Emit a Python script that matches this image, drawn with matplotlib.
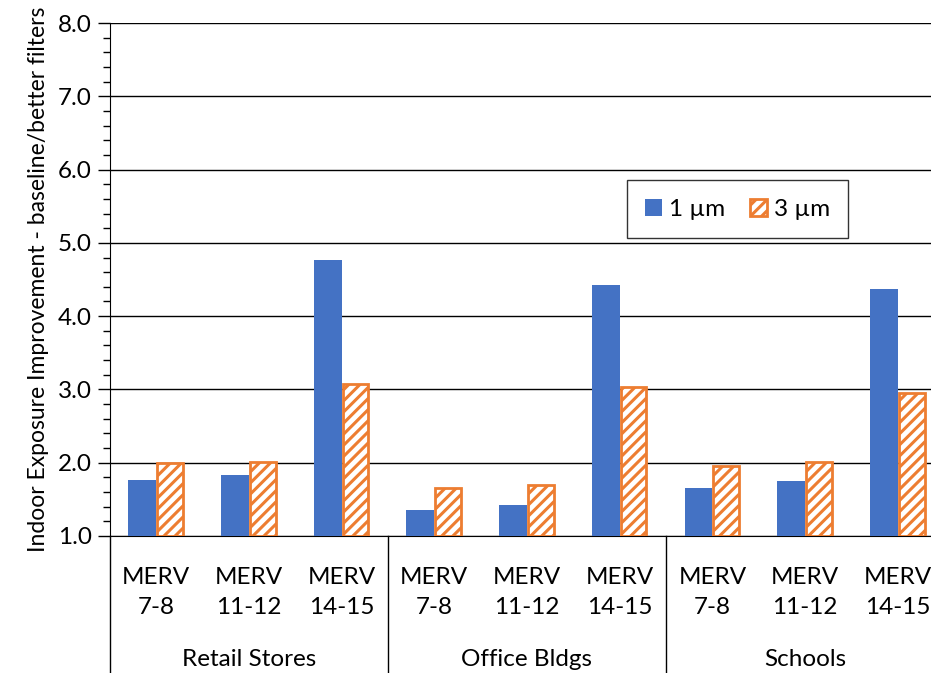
import matplotlib
matplotlib.use("Agg")
import matplotlib.pyplot as plt
import matplotlib.patches as mpatches
import matplotlib.transforms as mtrans
import numpy as np

plt.rcParams['font.family'] = ['Lato', 'DejaVu Sans']
plt.rcParams['hatch.linewidth'] = 2.2

groups = ['Retail Stores', 'Office Bldgs', 'Schools']
filters = ['MERV\n7-8', 'MERV\n11-12', 'MERV\n14-15']
one_um = [1.77, 1.83, 4.77, 1.36, 1.42, 4.43, 1.66, 1.75, 4.37]
three_um = [1.99, 2.01, 3.07, 1.65, 1.69, 3.03, 1.95, 2.01, 2.95]

blue = '#4472C4'
orange = '#ED7D31'

fig = plt.figure(figsize=(9.31, 6.73), dpi=100)
ax = fig.add_axes([0.118, 0.2036, 0.896, 0.7622])

x = np.arange(len(one_um))
w = 0.3
ax.bar(x - w / 2, np.array(one_um) - 1, w, bottom=1, color=blue, zorder=3)
ax.bar(x + w / 2, np.array(three_um) - 1, w * 0.93, bottom=1, color='white',
       edgecolor=orange, hatch='///', linewidth=2, zorder=3)

ax.set_xlim(-0.5, len(one_um) - 0.5)
ax.set_ylim(1, 8)
ax.set_yticks(np.arange(1, 8.1, 1))
ax.set_yticklabels(['%.1f' % v for v in np.arange(1, 8.1, 1)], fontsize=17.5)
ax.set_yticks(np.arange(1, 8.01, 0.2), minor=True)
ax.tick_params(axis='y', which='major', length=9, width=1, direction='out', pad=4)
ax.tick_params(axis='y', which='minor', length=5, width=1, direction='out')
ax.grid(axis='y', color='black', linewidth=1, zorder=0)
ax.set_axisbelow(True)
for s in ['top', 'right']:
    ax.spines[s].set_visible(False)
ax.spines['left'].set_color('black')
ax.spines['bottom'].set_color('black')

ax.set_xticks(x)
ax.set_xticklabels(filters * len(groups), fontsize=17.5, linespacing=1.55)
ax.tick_params(axis='x', length=0, pad=22)

ax.set_ylabel('Indoor Exposure Improvement - baseline/better filters', fontsize=16.5, labelpad=6)

# group labels and separators below the axis
trans = mtrans.blended_transform_factory(ax.transData, ax.transAxes)
for i, g in enumerate(groups):
    ax.text(3 * i + 1, -0.24, g, transform=trans, ha='center', va='center', fontsize=17.5)
for pos in [-0.5, 2.5, 5.5]:
    ax.plot([pos, pos], [0, -0.3], transform=trans, color='black', linewidth=1, clip_on=False)

handles = [mpatches.Patch(facecolor=blue, label='1 µm'),
           mpatches.Patch(facecolor='white', edgecolor=orange, hatch='///', linewidth=2, label='3 µm')]
leg = ax.legend(handles=handles, ncol=2, loc='center', bbox_to_anchor=(0.7525, 0.637),
                fontsize=17.5, frameon=True, fancybox=False, edgecolor='black',
                handlelength=0.7, handleheight=0.7, handletextpad=0.3, columnspacing=1.0,
                borderpad=0.75)
leg.get_frame().set_linewidth(1)

fig.savefig('out.png', dpi=100)
